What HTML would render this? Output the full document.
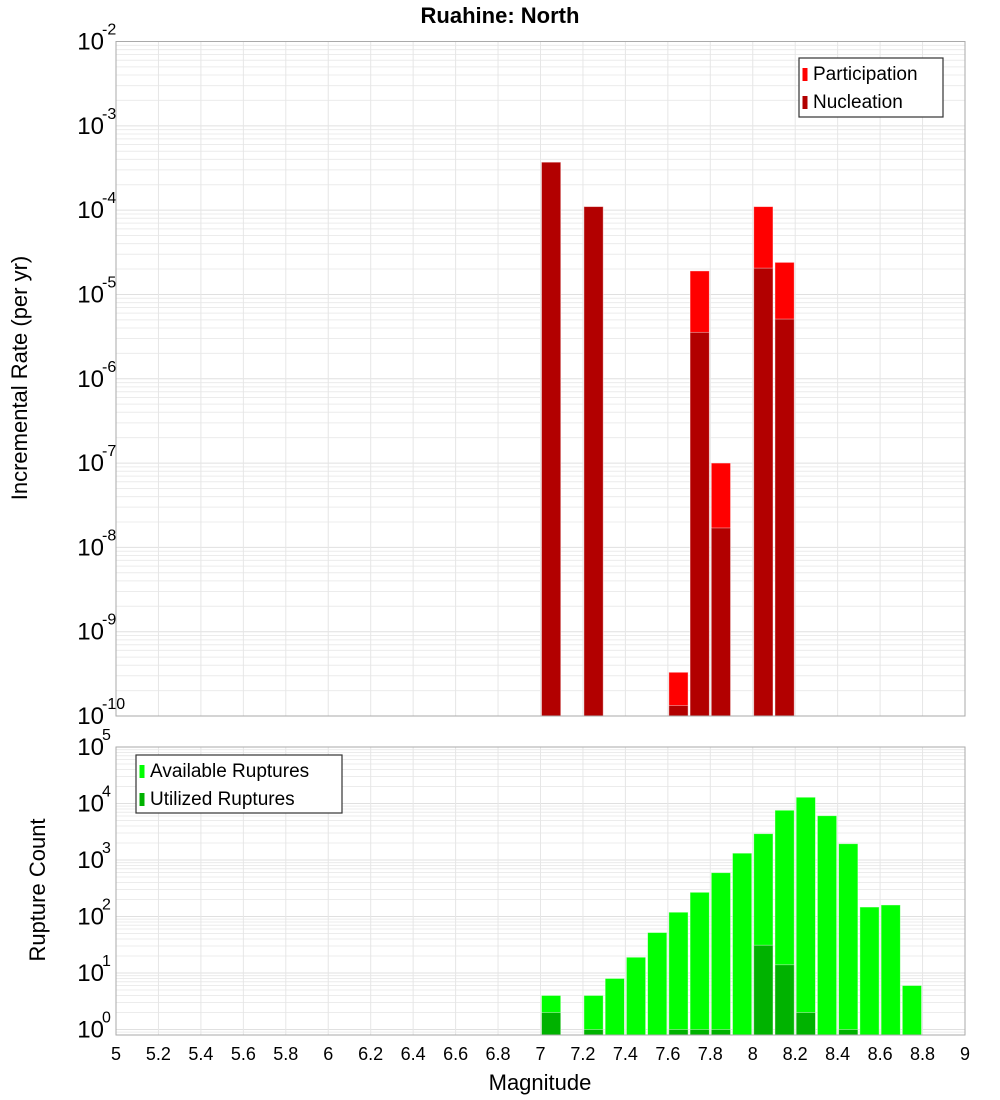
<!DOCTYPE html>
<html><head><meta charset="utf-8">
<style>
html,body{margin:0;padding:0;background:#fff;}
svg{display:block;font-family:"Liberation Sans","DejaVu Sans",sans-serif;}
</style></head>
<body>
<svg id="chart" width="1000" height="1100" viewBox="0 0 1000 1100" xmlns="http://www.w3.org/2000/svg">
  <text x="500" y="23" text-anchor="middle" font-size="22" font-weight="bold" fill="#000">Ruahine: North</text>
  <g id="top"></g>
  <g id="bot"></g>
  <text transform="translate(27,378) rotate(-90)" text-anchor="middle" font-size="22" fill="#000">Incremental Rate (per yr)</text>
  <text transform="translate(45,890) rotate(-90)" text-anchor="middle" font-size="22" fill="#000">Rupture Count</text>
  <text x="540" y="1090" text-anchor="middle" font-size="22" fill="#000">Magnitude</text>
</svg>
<script>
const rateMags = [7.0, 7.2, 7.6, 7.7, 7.8, 8.0, 8.1];
const participation = [3.7e-4, 1.1e-4, 3.3e-10, 1.9e-5, 1.0e-7, 1.1e-4, 2.4e-5];
const nucleation = [3.7e-4, 1.1e-4, 1.33e-10, 3.55e-6, 1.7e-8, 2.05e-5, 5.1e-6];
const countMags = [7.0, 7.2, 7.3, 7.4, 7.5, 7.6, 7.7, 7.8, 7.9, 8.0, 8.1, 8.2, 8.3, 8.4, 8.5, 8.6, 8.7];
const available = [4, 4, 8, 19, 52, 119, 268, 596, 1320, 2920, 7590, 12900, 6080, 1940, 147, 160, 6];
const utilized = [2, 1, 0, 0, 0, 1, 1, 1, 0, 31, 14, 2, 0, 1, 0, 0, 0];
const xTicks = [5, 5.2, 5.4, 5.6, 5.8, 6, 6.2, 6.4, 6.6, 6.8, 7, 7.2, 7.4, 7.6, 7.8, 8, 8.2, 8.4, 8.6, 8.8, 9];
const topDecades = [-2, -3, -4, -5, -6, -7, -8, -9, -10];
const botDecades = [5, 4, 3, 2, 1, 0];

const NS = "http://www.w3.org/2000/svg";
const X0 = 116, X1 = 965;
function xs(m){ return X0 + (m - 5) / 4 * (X1 - X0); }
const topY0 = 41.5, topY1 = 716;
function yTop(v){ return topY0 + (-2 - Math.log10(v)) * (topY1 - topY0) / 8; }
const botY0 = 747, botY1 = 1035, botOne = 1029.5, botDec = 56.5;
function yBot(v){ return botOne - Math.log10(v) * botDec; }

function el(tag, attrs, parent){
  const e = document.createElementNS(NS, tag);
  for (const k in attrs) e.setAttribute(k, attrs[k]);
  parent.appendChild(e); return e;
}

function panel(g, yT, yB, decades, yf, minV, maxExp){
  el('rect', {x:X0, y:yT, width:X1-X0, height:yB-yT, fill:'#fff'}, g);
  // horizontal grid
  for (let e = Math.min(...decades) - 1; e <= maxExp; e++){
    for (let k = 1; k <= 9; k++){
      const v = k * Math.pow(10, e);
      const y = yf(v);
      if (y < yT - 0.1 || y > yB + 0.1) continue;
      const ln = el('line', {x1:X0, x2:X1, y1:y, y2:y, stroke: k===1?'#e0e0e0':'#ececec', 'stroke-width':1}, g);
      
      
    }
  }
  xTicks.forEach(t => {
    const ln = el('line', {x1:xs(t), x2:xs(t), y1:yT, y2:yB, stroke:'#e6e6e6', 'stroke-width':1}, g);
    
    
  });
  decades.forEach(d => {
    const y = yf(Math.pow(10, d));
    const t = el('text', {x:104, y:y+8, 'text-anchor':'end', 'font-size':24, fill:'#000'}, g);
    
    
    t.textContent = '10';
    const s = el('text', {x:102, y:y-7, 'text-anchor':'start', 'font-size':16, fill:'#000'}, g);
    
    
    s.textContent = String(d);
  });
}

function bars(g, mags, vals, yf, yB, color, name){
  mags.forEach((m, i) => {
    const v = vals[i];
    if (!(v > 0)) return;
    const xa = xs(m) + 1, xb = xs(m + 0.1) - 1;
    let y = yf(v);
    const r = el('rect', {x:xa, y:y, width:xb-xa, height:Math.max(0, yB-y), fill:color, stroke:'rgba(255,255,255,0.5)', 'stroke-width':0.8}, g);
    
    
  });
}

function legend(g, x, y, w, h, items){
  const box = el('rect', {x:x, y:y, width:w, height:h, fill:'#fff', stroke:'#333', 'stroke-width':1.2}, g);
  
  
  items.forEach((it, i) => {
    const cy = y + 15 + i * 28;
    const sw = el('rect', {x:x+3.5, y:cy-5, width:5, height:13, fill:it[1]}, g);
    
    
    const t = el('text', {x:x+14, y:cy+7, 'font-size':19, fill:'#000'}, g);
    
    
    t.textContent = it[0];
  });
}

const gT = document.getElementById('top');
panel(gT, topY0, topY1, topDecades, yTop, 1e-10, -2);
bars(gT, rateMags, participation, yTop, topY1, '#ff0000', 'participation');
bars(gT, rateMags, nucleation, yTop, topY1, '#b20000', 'nucleation');
el('rect', {x:X0, y:topY0, width:X1-X0, height:topY1-topY0, fill:'none', stroke:'#aaa', 'stroke-width':1}, gT);
legend(gT, 799, 58, 144, 59, [['Participation','#ff0000'],['Nucleation','#b20000']]);

const gB = document.getElementById('bot');
panel(gB, botY0, botY1, botDecades, yBot, 1, 5);
bars(gB, countMags, available, yBot, botY1, '#00ff00', 'available');
bars(gB, countMags, utilized, yBot, botY1, '#00b200', 'utilized');
el('rect', {x:X0, y:botY0, width:X1-X0, height:botY1-botY0, fill:'none', stroke:'#aaa', 'stroke-width':1}, gB);
legend(gB, 136, 755, 206, 58, [['Available Ruptures','#00ff00'],['Utilized Ruptures','#00b200']]);

xTicks.forEach(t => {
  const tx = el('text', {x:xs(t), y:1060, 'text-anchor':'middle', 'font-size':18, fill:'#000'}, gB);
  
  
  tx.textContent = String(t);
});
</script>
</body></html>
